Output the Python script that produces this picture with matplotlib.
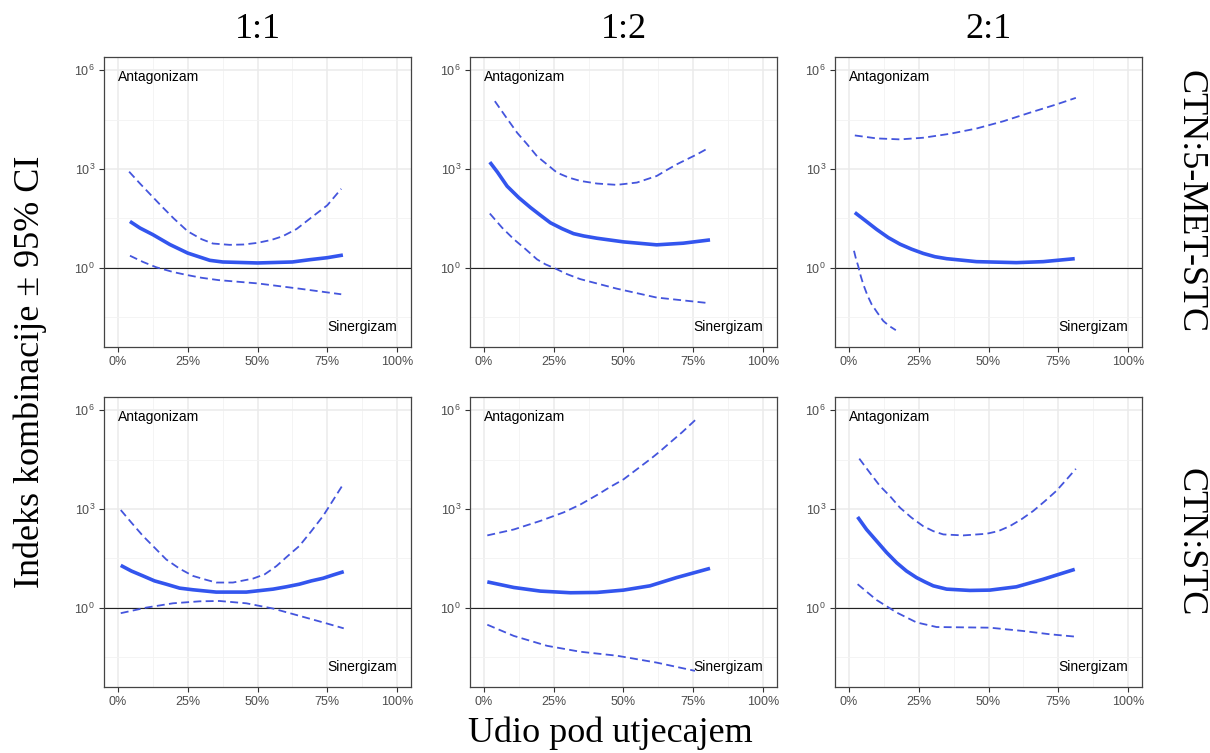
import numpy as np
import matplotlib
matplotlib.use("Agg")
import matplotlib.pyplot as plt
from matplotlib.ticker import FixedLocator, FuncFormatter

col_titles = ["1:1", "1:2", "2:1"]
row_titles = ["CTN:5-MET-STC", "CTN:STC"]

# each curve: x in % affected, y as log10(combination index)
fit = {
    (0, 0): ([4.3, 7.9, 12.5, 18.6, 25, 32.9, 37.5, 50, 62.5, 68.8, 75, 80.6],
             [1.41, 1.21, 1.01, 0.71, 0.45, 0.23, 0.18, 0.15, 0.18, 0.25, 0.31, 0.39]),
    (0, 1): ([2.1, 4.8, 8.3, 12.5, 16.7, 20.2, 23.8, 28, 32.1, 35.7, 40.5, 50, 61.9, 71.4, 81],
             [3.21, 2.91, 2.48, 2.13, 1.83, 1.60, 1.37, 1.19, 1.04, 0.97, 0.90, 0.79, 0.70, 0.75, 0.85]),
    (0, 2): ([2.1, 6.1, 9.9, 14.1, 18.3, 22.4, 26.6, 30.8, 35, 45.7, 60, 69.6, 80.9],
             [1.68, 1.42, 1.17, 0.92, 0.72, 0.57, 0.44, 0.34, 0.28, 0.19, 0.16, 0.19, 0.28]),
    (1, 0): ([1, 4.8, 9, 13.1, 17.3, 22.1, 26.9, 35.2, 46, 55.6, 60.3, 65, 69.3, 73.5, 77.1, 80.9],
             [1.29, 1.12, 0.97, 0.82, 0.72, 0.60, 0.55, 0.48, 0.48, 0.57, 0.64, 0.72, 0.82, 0.90, 1.00, 1.10]),
    (1, 1): ([1.2, 10.7, 20.2, 31, 40.5, 50, 59.5, 69, 81],
             [0.79, 0.62, 0.51, 0.46, 0.47, 0.54, 0.67, 0.92, 1.20]),
    (1, 2): ([3.1, 6.3, 9.9, 13.5, 17.1, 20.6, 24.2, 27.2, 30.2, 35, 43.3, 50.5, 60, 69.6, 80.9],
             [2.76, 2.38, 2.03, 1.68, 1.37, 1.12, 0.92, 0.79, 0.67, 0.57, 0.53, 0.54, 0.64, 0.87, 1.17]),
}
upper = {
    (0, 0): ([4, 8, 12.5, 16, 20, 25, 30, 34, 40, 45, 50, 55, 59, 64, 69, 75, 80],
             [2.92, 2.55, 2.15, 1.84, 1.50, 1.11, 0.87, 0.74, 0.70, 0.71, 0.76, 0.85, 0.96, 1.18, 1.51, 1.90, 2.40]),
    (0, 1): ([3.9, 7.7, 11.9, 15.5, 19, 22.6, 26.2, 30.4, 34.5, 40.5, 47.6, 54.8, 61.9, 65.5, 69, 72.6, 76.2, 80.7],
             [5.06, 4.60, 4.10, 3.75, 3.39, 3.14, 2.89, 2.74, 2.64, 2.56, 2.52, 2.59, 2.79, 2.97, 3.14, 3.29, 3.44, 3.65]),
    (0, 2): ([2.1, 9.9, 18.3, 26.6, 36.2, 45.7, 55.3, 64.8, 74.3, 81.3],
             [4.02, 3.93, 3.90, 3.95, 4.07, 4.23, 4.45, 4.71, 4.96, 5.16]),
    (1, 0): ([1, 4.8, 9, 13.1, 17.3, 22.1, 26.9, 31.7, 35.2, 41.2, 48.4, 52.6, 56.8, 60.9, 65, 69.3, 73.5, 77.1, 80.9],
             [2.97, 2.59, 2.18, 1.83, 1.47, 1.19, 0.97, 0.85, 0.77, 0.77, 0.89, 1.02, 1.27, 1.58, 1.88, 2.33, 2.79, 3.27, 3.78]),
    (1, 1): ([1.2, 10.7, 20.2, 28.6, 34.6, 41, 45, 50, 55, 60, 63.2, 67, 71, 75.7],
             [2.20, 2.38, 2.64, 2.90, 3.14, 3.45, 3.66, 3.90, 4.22, 4.54, 4.76, 5.04, 5.33, 5.70]),
    (1, 2): ([3.7, 7.5, 11.1, 14.7, 18.3, 22.4, 26.6, 30.2, 33.8, 40.9, 49.3, 53.5, 57.6, 61.8, 66, 70.2, 74.3, 78, 81.3],
             [4.53, 4.10, 3.70, 3.39, 3.04, 2.74, 2.48, 2.33, 2.23, 2.20, 2.25, 2.33, 2.48, 2.69, 2.94, 3.24, 3.55, 3.90, 4.22]),
}
lower = {
    (0, 0): ([4.3, 9, 13.7, 20, 25, 30, 36, 50, 65, 80],
             [0.37, 0.18, 0.02, -0.13, -0.22, -0.30, -0.37, -0.47, -0.63, -0.80]),
    (0, 1): ([2.1, 6.5, 10.7, 14.9, 19, 22, 25.6, 29.8, 34.5, 47.6, 61.9, 80.7],
             [1.65, 1.22, 0.87, 0.57, 0.26, 0.11, -0.02, -0.19, -0.34, -0.63, -0.90, -1.07]),
    (0, 2): ([1.8, 2.5, 3.3, 4.2, 5.1, 6.6, 8.1, 10.1, 12.3, 14.4, 16.8],
             [0.52, 0.28, 0.06, -0.24, -0.49, -0.83, -1.10, -1.35, -1.61, -1.76, -1.89]),
    (1, 0): ([1, 10.2, 19.7, 29.3, 36.4, 46, 55.6, 65, 73.5, 80.9],
             [-0.16, 0.01, 0.14, 0.20, 0.21, 0.14, -0.02, -0.24, -0.44, -0.62]),
    (1, 1): ([1.2, 10.7, 22.6, 34.5, 47.6, 61.9, 75.6],
             [-0.51, -0.85, -1.15, -1.33, -1.45, -1.66, -1.91]),
    (1, 2): ([3.1, 9.9, 17.1, 24.2, 31.4, 40.9, 50.5, 62.4, 72, 80.9],
             [0.72, 0.24, -0.14, -0.44, -0.58, -0.59, -0.60, -0.70, -0.80, -0.87]),
}

W, H = 1210, 753
fig = plt.figure(figsize=(W / 100, H / 100), dpi=100)

col_px = [(104, 411), (470, 777), (835, 1142)]
row_px = [(57, 347), (397, 687)]

sans = "Liberation Sans"
serif = "Liberation Serif"
blue = "#3355EE"
dblue = "#4455DD"

for r in range(2):
    for c in range(3):
        x0, x1 = col_px[c]
        y0, y1 = row_px[r]
        ax = fig.add_axes([x0 / W, 1 - y1 / H, (x1 - x0) / W, (y1 - y0) / H])
        ax.set_yscale("log")
        ax.set_xlim(-5, 105)
        ax.set_ylim(10 ** -2.4, 10 ** 6.4)
        ax.set_xticks([0, 25, 50, 75, 100])
        ax.set_xticks([12.5, 37.5, 62.5, 87.5], minor=True)
        ax.xaxis.set_major_formatter(FuncFormatter(lambda v, p: f"{v:.0f}%"))
        ax.yaxis.set_major_locator(FixedLocator([1, 1e3, 1e6]))
        ax.yaxis.set_minor_locator(FixedLocator([10 ** -1.5, 10 ** 1.5, 10 ** 4.5]))
        ax.yaxis.set_major_formatter(
            FuncFormatter(lambda v, p: r"$\mathregular{10^{%d}}$" % round(np.log10(v))))
        ax.grid(which="major", color="#EBEBEB", lw=1.1)
        ax.grid(which="minor", color="#F3F3F3", lw=0.6)
        ax.set_axisbelow(True)
        ax.tick_params(which="minor", length=0)
        ax.tick_params(which="major", length=3.5, width=0.8, color="#333333",
                       labelcolor="#4D4D4D", labelsize=9, pad=3)
        for lab in ax.get_xticklabels() + ax.get_yticklabels():
            lab.set_family(sans)
        for s in ax.spines.values():
            s.set_color("#444444")
            s.set_linewidth(0.9)

        ax.axhline(1, color="#222222", lw=0.8)
        xs, ys = fit[(r, c)]
        ax.plot(xs, 10 ** np.array(ys), color=blue, lw=2.6, solid_capstyle="butt",
                solid_joinstyle="round")
        for d in (upper, lower):
            xs, ys = d[(r, c)]
            ax.plot(xs, 10 ** np.array(ys), color=dblue, lw=1.3, dashes=(4.4, 2.4))

        ax.text(0, 1e6, "Antagonizam", ha="left", va="top", fontsize=10, family=sans)
        ax.text(100, 10 ** -2.0, "Sinergizam", ha="right", va="bottom", fontsize=10, family=sans)

        if r == 0:
            fig.text((x0 + x1) / 2 / W, 1 - 30 / H, col_titles[c], ha="center", va="center",
                     fontsize=26, family=serif)
        if c == 2:
            fig.text(1190 / W, 1 - (y0 + y1) / 2 / H, row_titles[r], ha="center", va="center",
                     rotation=-90, fontsize=26, family=serif)

fig.text(30 / W, 1 - 372 / H, "Indeks kombinacije ± 95% CI", ha="center", va="center",
         rotation=90, fontsize=26, family=serif)
fig.text(610 / W, 1 - 733 / H, "Udio pod utjecajem", ha="center", va="center",
         fontsize=26, family=serif)

fig.savefig("out.png", dpi=100)
